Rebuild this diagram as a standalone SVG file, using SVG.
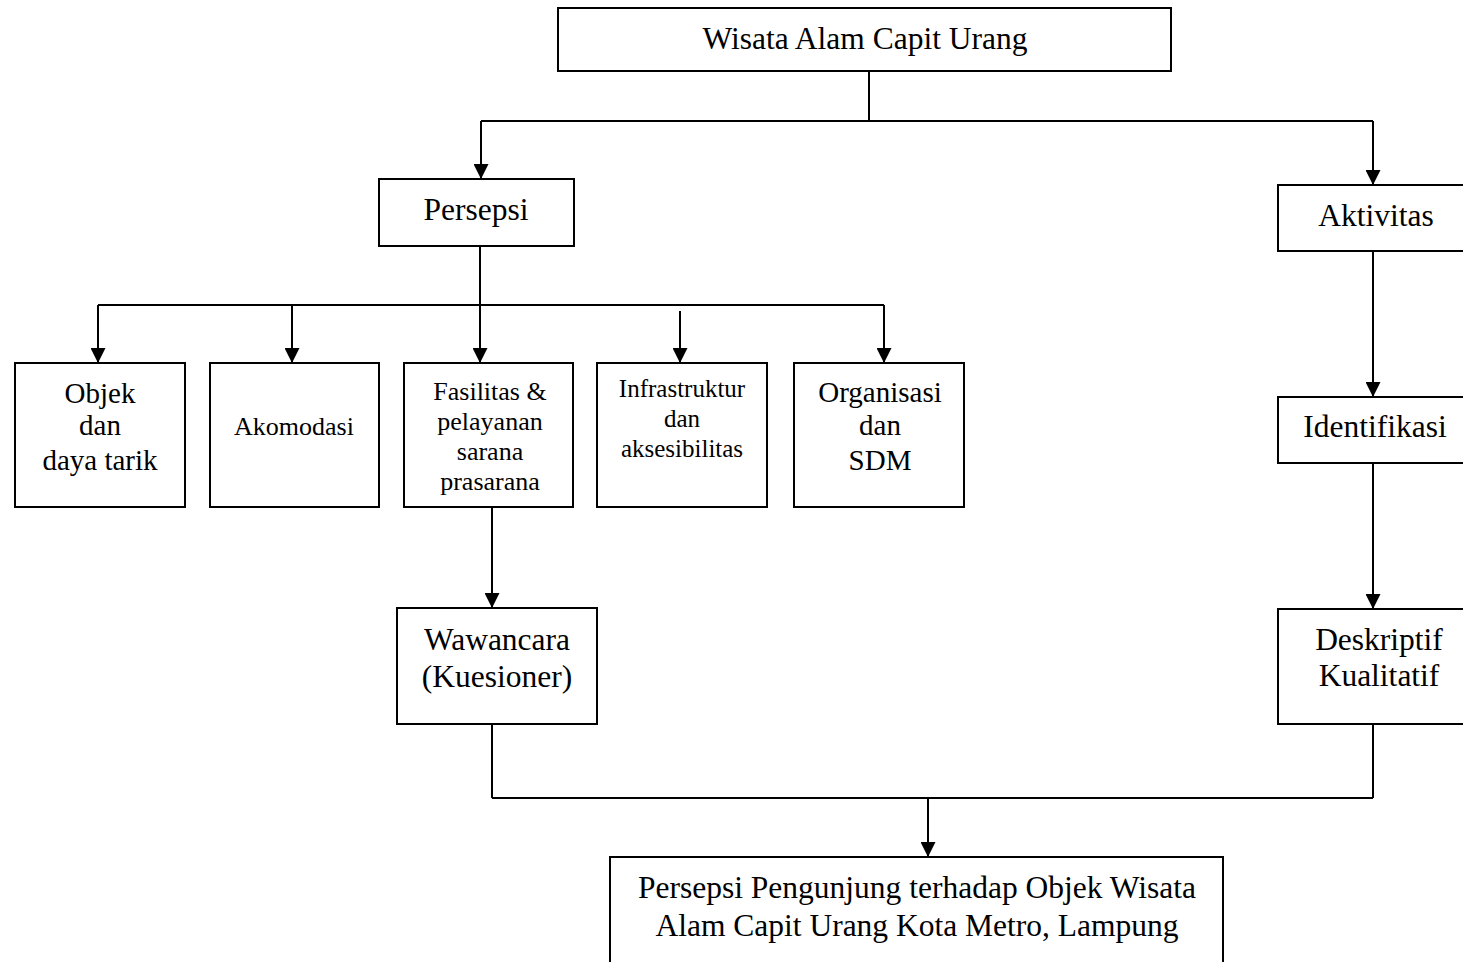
<svg xmlns="http://www.w3.org/2000/svg" width="1463" height="962" viewBox="0 0 1463 962">
<style>
  .box{fill:#fff;stroke:#000;stroke-width:2}
  .ln{fill:none;stroke:#000;stroke-width:2}
  text{font-family:"Liberation Serif","Times New Roman",serif;fill:#000;text-anchor:middle}
  .L{font-size:31.5px}
  .S{font-size:26px}
  .M{font-size:29px}
  .T{font-size:25px}
</style>
<defs>
  <marker id="ah" markerWidth="15" markerHeight="15" refX="15" refY="7.5" orient="auto" markerUnits="userSpaceOnUse">
    <path d="M0,0 L15,7.5 L0,15 Z" fill="#000"/>
  </marker>
</defs>
<rect width="1463" height="962" fill="#fff"/>
<g id="connectors">
  <path class="ln" d="M869,71 V121 M481,121 H1373 M98,305 H884 M492,724 V798 M1373,724 V798 M492,798 H1373"/>
  <line class="ln" x1="481" y1="121" x2="481" y2="179" marker-end="url(#ah)"/>
  <line class="ln" x1="1373" y1="121" x2="1373" y2="185" marker-end="url(#ah)"/>
  <line class="ln" x1="480" y1="246" x2="480" y2="363" marker-end="url(#ah)"/>
  <line class="ln" x1="98" y1="305" x2="98" y2="363" marker-end="url(#ah)"/>
  <line class="ln" x1="292" y1="305" x2="292" y2="363" marker-end="url(#ah)"/>
  <line class="ln" x1="680" y1="311" x2="680" y2="363" marker-end="url(#ah)"/>
  <line class="ln" x1="884" y1="305" x2="884" y2="363" marker-end="url(#ah)"/>
  <line class="ln" x1="492" y1="507" x2="492" y2="608" marker-end="url(#ah)"/>
  <line class="ln" x1="1373" y1="251" x2="1373" y2="397" marker-end="url(#ah)"/>
  <line class="ln" x1="1373" y1="463" x2="1373" y2="609" marker-end="url(#ah)"/>
  <line class="ln" x1="928" y1="798" x2="928" y2="857" marker-end="url(#ah)"/>
</g>
<g id="wisata">
  <rect class="box" x="558" y="8" width="613" height="63"/>
  <text class="L" x="865" y="49">Wisata Alam Capit Urang</text>
</g>
<g id="persepsi">
  <rect class="box" x="379" y="179" width="195" height="67"/>
  <text class="L" x="476" y="220">Persepsi</text>
</g>
<g id="aktivitas">
  <rect class="box" x="1278" y="185" width="200" height="66"/>
  <text class="L" x="1376" y="226">Aktivitas</text>
</g>
<g id="objek">
  <rect class="box" x="15" y="363" width="170" height="144"/>
  <text class="M" x="100" y="403">Objek</text>
  <text class="M" x="100" y="435">dan</text>
  <text class="M" x="100" y="470">daya tarik</text>
</g>
<g id="akomodasi">
  <rect class="box" x="210" y="363" width="169" height="144"/>
  <text class="S" x="294" y="435">Akomodasi</text>
</g>
<g id="fasilitas">
  <rect class="box" x="404" y="363" width="169" height="144"/>
  <text class="S" x="490" y="400">Fasilitas &amp;</text>
  <text class="S" x="490" y="430">pelayanan</text>
  <text class="S" x="490" y="460">sarana</text>
  <text class="S" x="490" y="490">prasarana</text>
</g>
<g id="infrastruktur">
  <rect class="box" x="597" y="363" width="170" height="144"/>
  <text class="T" x="682" y="397">Infrastruktur</text>
  <text class="T" x="682" y="427">dan</text>
  <text class="T" x="682" y="457">aksesibilitas</text>
</g>
<g id="organisasi">
  <rect class="box" x="794" y="363" width="170" height="144"/>
  <text class="M" x="880" y="402">Organisasi</text>
  <text class="M" x="880" y="435">dan</text>
  <text class="M" x="880" y="470">SDM</text>
</g>
<g id="wawancara">
  <rect class="box" x="397" y="608" width="200" height="116"/>
  <text class="L" x="497" y="650">Wawancara</text>
  <text class="L" x="497" y="687">(Kuesioner)</text>
</g>
<g id="identifikasi">
  <rect class="box" x="1278" y="397" width="200" height="66"/>
  <text class="L" x="1375" y="437">Identifikasi</text>
</g>
<g id="deskriptif">
  <rect class="box" x="1278" y="609" width="200" height="115"/>
  <text class="L" x="1379" y="650">Deskriptif</text>
  <text class="L" x="1379" y="686">Kualitatif</text>
</g>
<g id="hasil">
  <rect class="box" x="610" y="857" width="613" height="120"/>
  <text class="L" x="917" y="898">Persepsi Pengunjung terhadap Objek Wisata</text>
  <text class="L" x="917" y="936">Alam Capit Urang Kota Metro, Lampung</text>
</g>
</svg>
